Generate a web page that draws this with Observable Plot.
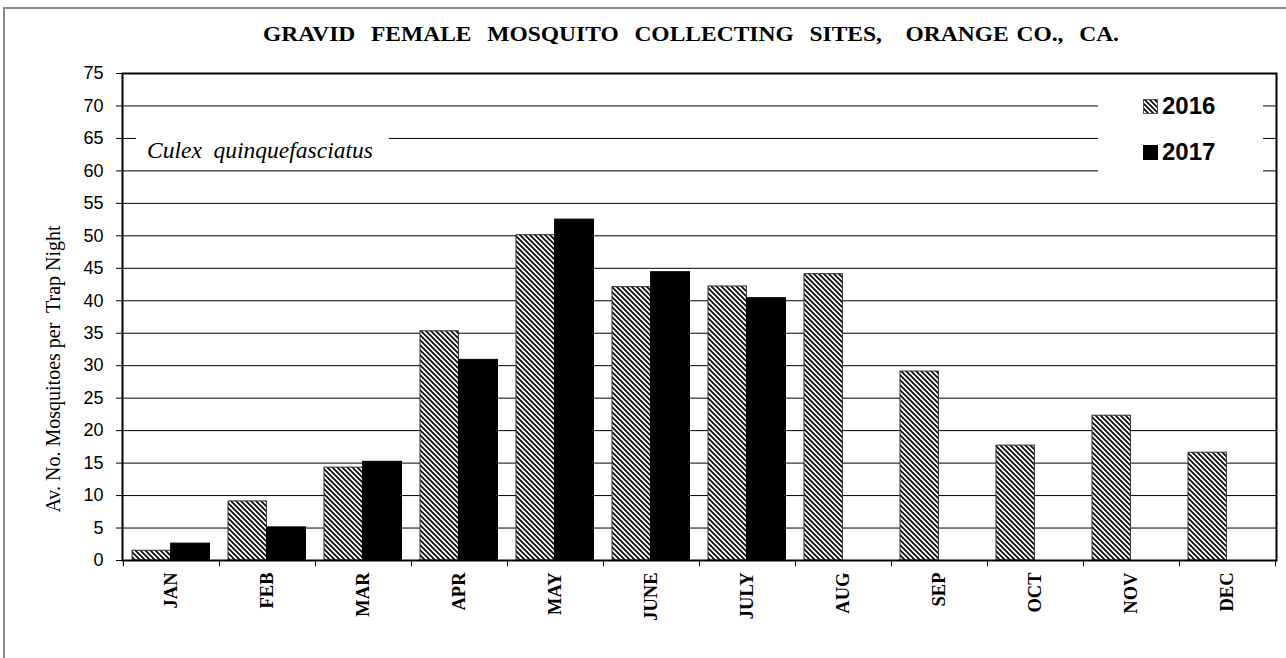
<!DOCTYPE html>
<html>
<head>
<meta charset="utf-8">
<script src="https://cdn.jsdelivr.net/npm/d3@7"></script>
<script src="https://cdn.jsdelivr.net/npm/@observablehq/plot@0.6"></script>
<style>
  html, body { margin: 0; padding: 0; background: #fff; overflow: hidden; }
  #chart { position: relative; width: 1286px; height: 658px; }
  #chart svg { display: block; }
</style>
</head>
<body>
<div id="chart"></div>
<script>
// ---- data ----
const months = ["JAN", "FEB", "MAR", "APR", "MAY", "JUNE", "JULY", "AUG", "SEP", "OCT", "NOV", "DEC"];
const values2016 = [1.5, 9.1, 14.3, 35.3, 50.1, 42.1, 42.2, 44.1, 29.1, 17.7, 22.3, 16.6];
const values2017 = [2.6, 5.1, 15.2, 30.9, 52.5, 44.4, 40.4, null, null, null, null, null];
const yTicks = [0, 5, 10, 15, 20, 25, 30, 35, 40, 45, 50, 55, 60, 65, 70, 75];
const seriesNames = ["2016", "2017"];
const titleText = "GRAVID  FEMALE  MOSQUITO  COLLECTING  SITES,   ORANGE CO.,  CA.";
const yLabelText = "Av. No. Mosquitoes per  Trap Night";
const speciesText = "Culex  quinquefasciatus";

const rows2016 = months.map((m, i) => ({month: m, value: values2016[i]}));
const rows2017 = months.map((m, i) => ({month: m, value: values2017[i]})).filter(d => d.value != null);
const gridTicks = yTicks.filter(t => t > 0 && t < 75);

const W = 1286, H = 658;
const mL = 122, mR = 10, mT = 73, mB = 98;
const band = (W - mL - mR) / months.length;

const plot = Plot.plot({
  width: W,
  height: H,
  marginLeft: mL,
  marginRight: mR,
  marginTop: mT,
  marginBottom: mB,
  style: {fontFamily: "Liberation Sans, Arial, sans-serif", fontSize: "18px", background: "transparent", color: "#000"},
  x: {type: "band", domain: months, padding: 0, axis: null},
  y: {domain: [0, 75], axis: null},
  marks: [
    Plot.ruleY(gridTicks, {stroke: "#000", strokeWidth: 1}),
    Plot.barY(rows2016, {x: "month", y: "value", fill: "url(#hatch)", stroke: "#333", strokeWidth: 1, insetLeft: 9, insetRight: 48.6}),
    Plot.barY(rows2017, {x: "month", y: "value", fill: "#000", stroke: "#000", strokeWidth: 1, insetLeft: 47.6, insetRight: 9.5}),
    Plot.frame({stroke: "#000", strokeWidth: 2}),
    Plot.axisY({ticks: yTicks, tickSize: 6, tickPadding: 13, fontSize: 18, label: null}),
    Plot.ruleX(months, {x: d => d, y1: 0, y2: -1, dx: -band / 2, stroke: "#000", strokeWidth: 1}),
    Plot.ruleX([months[months.length - 1]], {x: d => d, y1: 0, y2: -1, dx: band / 2, stroke: "#000", strokeWidth: 1}),
    Plot.text(months, {x: d => d, y: 0, text: d => d, rotate: -90, textAnchor: "end", dy: 12,
      fontFamily: "Liberation Serif, Times New Roman, serif", fontWeight: "bold", fontSize: 18.5, fill: "#000"})
  ]
});

document.getElementById("chart").appendChild(plot);
const svg = d3.select(plot);

// pattern definitions
const P = 5;
const defs = svg.insert("defs", ":first-child");
const pat = defs.append("pattern").attr("id", "hatch").attr("width", P).attr("height", P)
  .attr("patternUnits", "userSpaceOnUse");
pat.append("rect").attr("width", P).attr("height", P).attr("fill", "#fff");
pat.append("path").attr("d", `M-1,-1L${P + 1},${P + 1}M-1,${P - 1}L1,${P + 1}M${P - 1},-1L${P + 1},1`)
  .attr("stroke", "#111").attr("stroke-width", 1.9);

// outer border
svg.append("rect").attr("x", 4).attr("y", 8).attr("width", 1300).attr("height", 700)
  .attr("fill", "none").attr("stroke", "#8a8a8a").attr("stroke-width", 2);

const serif = "Liberation Serif, Times New Roman, serif";

// title: slightly widened glyphs, gaps filled by word spacing
const sx = 1.12;
const title = svg.append("text").attr("transform", `translate(263,41) scale(${sx},1)`).attr("text-anchor", "start")
  .attr("font-family", serif).attr("font-weight", "bold")
  .attr("font-size", 21).style("white-space", "pre")
  .text(titleText);
{
  const len = title.node().getComputedTextLength();
  const gaps = (titleText.match(/ /g) || []).length;
  const ws = Math.max(0, (856 / sx - len) / gaps);
  title.style("word-spacing", ws + "px");
}

// y label
svg.append("text").attr("transform", "translate(60,369) rotate(-90)").attr("text-anchor", "middle")
  .attr("font-family", serif).attr("font-size", 20)
  .style("white-space", "pre").text(yLabelText);

// species label box
svg.append("rect").attr("x", 136).attr("y", 122).attr("width", 253).attr("height", 42).attr("fill", "#fff");
svg.append("text").attr("x", 147).attr("y", 158).attr("text-anchor", "start")
  .attr("font-family", serif).attr("font-style", "italic")
  .attr("font-size", 23.5).style("white-space", "pre").text(speciesText);

// legend
svg.append("rect").attr("x", 1098).attr("y", 86).attr("width", 165).attr("height", 98).attr("fill", "#fff");
const legendRows = [
  {name: seriesNames[0], fill: "url(#hatch)", stroke: "#555", base: 114},
  {name: seriesNames[1], fill: "#000", stroke: "#000", base: 160}
];
legendRows.forEach(r => {
  svg.append("rect").attr("x", 1143.5).attr("y", r.base - 14.5).attr("width", 14).attr("height", 14)
    .attr("fill", r.fill).attr("stroke", r.stroke).attr("stroke-width", 1);
  svg.append("text").attr("x", 1162).attr("y", r.base).attr("text-anchor", "start")
    .attr("font-family", "Liberation Sans, Arial, sans-serif").attr("font-weight", "bold")
    .attr("font-size", 24).text(r.name);
});
</script>
</body>
</html>
